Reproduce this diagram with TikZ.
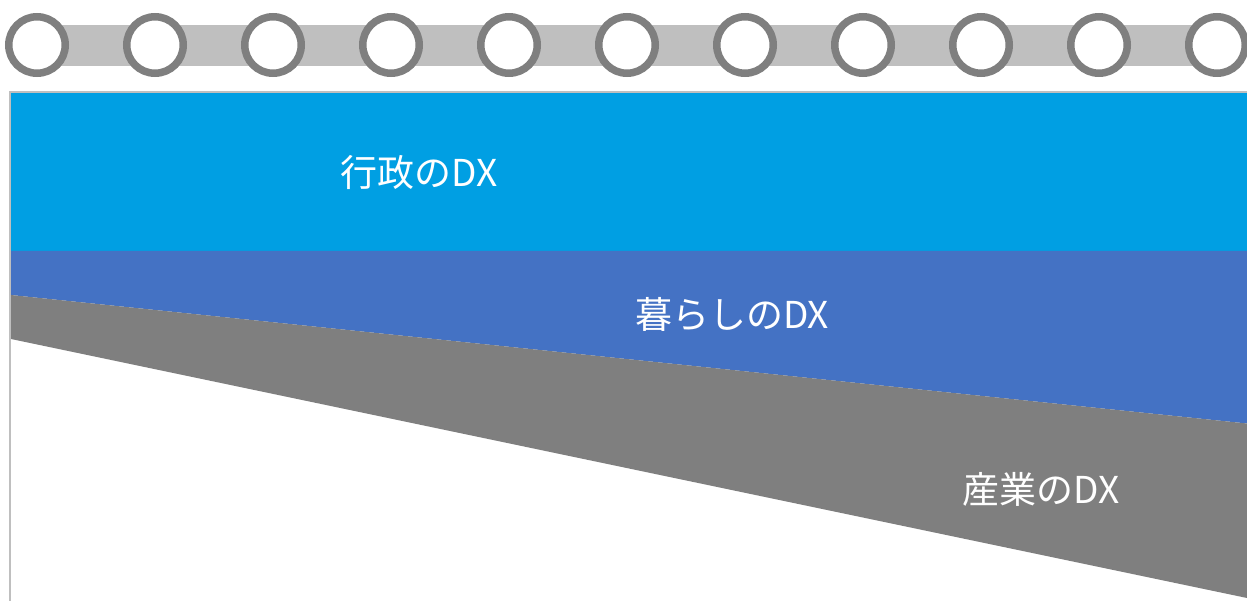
\documentclass[tikz,border=0pt]{standalone}
\usepackage{fontspec}
\setmainfont{Noto Sans CJK JP}
\definecolor{bandgray}{HTML}{BFBFBF}
\definecolor{ringgray}{HTML}{7F7F7F}
\definecolor{dxblue}{HTML}{009FE3}
\definecolor{dxindigo}{HTML}{4472C4}
\definecolor{dxgray}{HTML}{7F7F7F}
\tikzset{
  ring/.style={draw=ringgray, fill=white, line width=7.5pt},
  framestyle/.style={draw=bandgray, line width=2pt},
  label/.style={text=white, font=\fontsize{37}{42}\selectfont, inner sep=0pt}
}
\begin{document}
\begin{tikzpicture}[x=1pt,y=-1pt]
\useasboundingbox (0,0) rectangle (1247,601);
% binder band and rings
\fill[bandgray] (37,25) rectangle (1217,66);
\foreach \i in {0,...,10} \draw[ring] (37+118*\i,45) circle (28.25);
% frame
\draw[framestyle] (10,601) -- (10,92) -- (1248,92);
% layers
\fill[dxblue] (11,93) rectangle (1247,251);
\fill[dxindigo] (11,251) -- (1247,251) -- (1247,423.5) -- (11,295) -- cycle;
\fill[dxgray] (11,295) -- (1247,423.5) -- (1247,598) -- (11,339) -- cycle;
% labels
\node[label] (gov) at (419,172) {行政のDX};
\node[label] (life) at (732,314) {暮らしのDX};
\node[label] (ind) at (1041,489) {産業のDX};
\end{tikzpicture}
\end{document}
